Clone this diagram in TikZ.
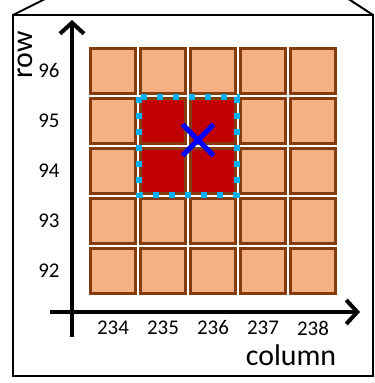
\documentclass[tikz,border=0pt]{standalone}
\usepackage{fontspec}
\setmainfont{Carlito}
\usetikzlibrary{arrows.meta,shapes.misc}

\definecolor{cellfill}{HTML}{F4B183}
\definecolor{cellline}{HTML}{843C0C}
\definecolor{selfill}{HTML}{C00000}
\definecolor{selline}{HTML}{00B0F0}

\begin{document}
\begin{tikzpicture}[x=1bp, y=1bp,
  cell/.style={draw=cellline, fill=cellfill, line width=3bp, minimum size=45bp, inner sep=0pt},
  axis/.style={line width=4bp, -{Straight Barb[length=11bp, width=24bp]}},
  ticklbl/.style={font=\fontsize{21}{25}\selectfont},
  axislbl/.style={font=\fontsize{30}{36}\selectfont}]

\useasboundingbox (0,0) rectangle (375,383);
\clip (0,0) rectangle (375,383);

% Frame with roof
\draw[line width=2bp] (13,7) rectangle (373,368);
\draw[line width=2bp] (13,368) -- (217,470) -- (373,368);

% Grid of cells
\foreach \i in {0,...,4}
  \foreach \j in {0,...,4}
    \node[cell] (c-\i-\j) at (113+50*\i, 112+50*\j) {};

% Selected cells
\foreach \i/\j in {1/2, 2/2, 1/3, 2/3}
  \node[cell, fill=selfill] (s-\i-\j) at (113+50*\i, 112+50*\j) {};
\draw[selline, line width=6bp, dash pattern=on 6bp off 10bp] (s-1-3.north west) rectangle (s-2-2.south east);

% Point
\node[cross out, draw=blue, line width=5bp, minimum size=26bp, inner sep=0pt] (pt) at (198,243) {};

% Axes
\coordinate (ybot) at (72,46);
\coordinate (ytop) at (72,363);
\coordinate (xleft) at (50,71);
\coordinate (xright) at (360,71);
\draw[axis] (ybot) -- (ytop);
\draw[axis] (xleft) -- (xright);

% Tick labels
\foreach \r [count=\j from 0] in {92,...,96}
  \node[ticklbl, anchor=east] (r\r) at (63, 112+50*\j) {\r};
\foreach \c [count=\i from 0] in {234,...,238}
  \node[ticklbl] (k\c) at (113+50*\i, 55) {\c};

% Axis labels
\node[axislbl, rotate=90] (rowlbl) at (25,328) {row};
\node[axislbl] (collbl) at (291,28) {column};

\end{tikzpicture}
\end{document}
